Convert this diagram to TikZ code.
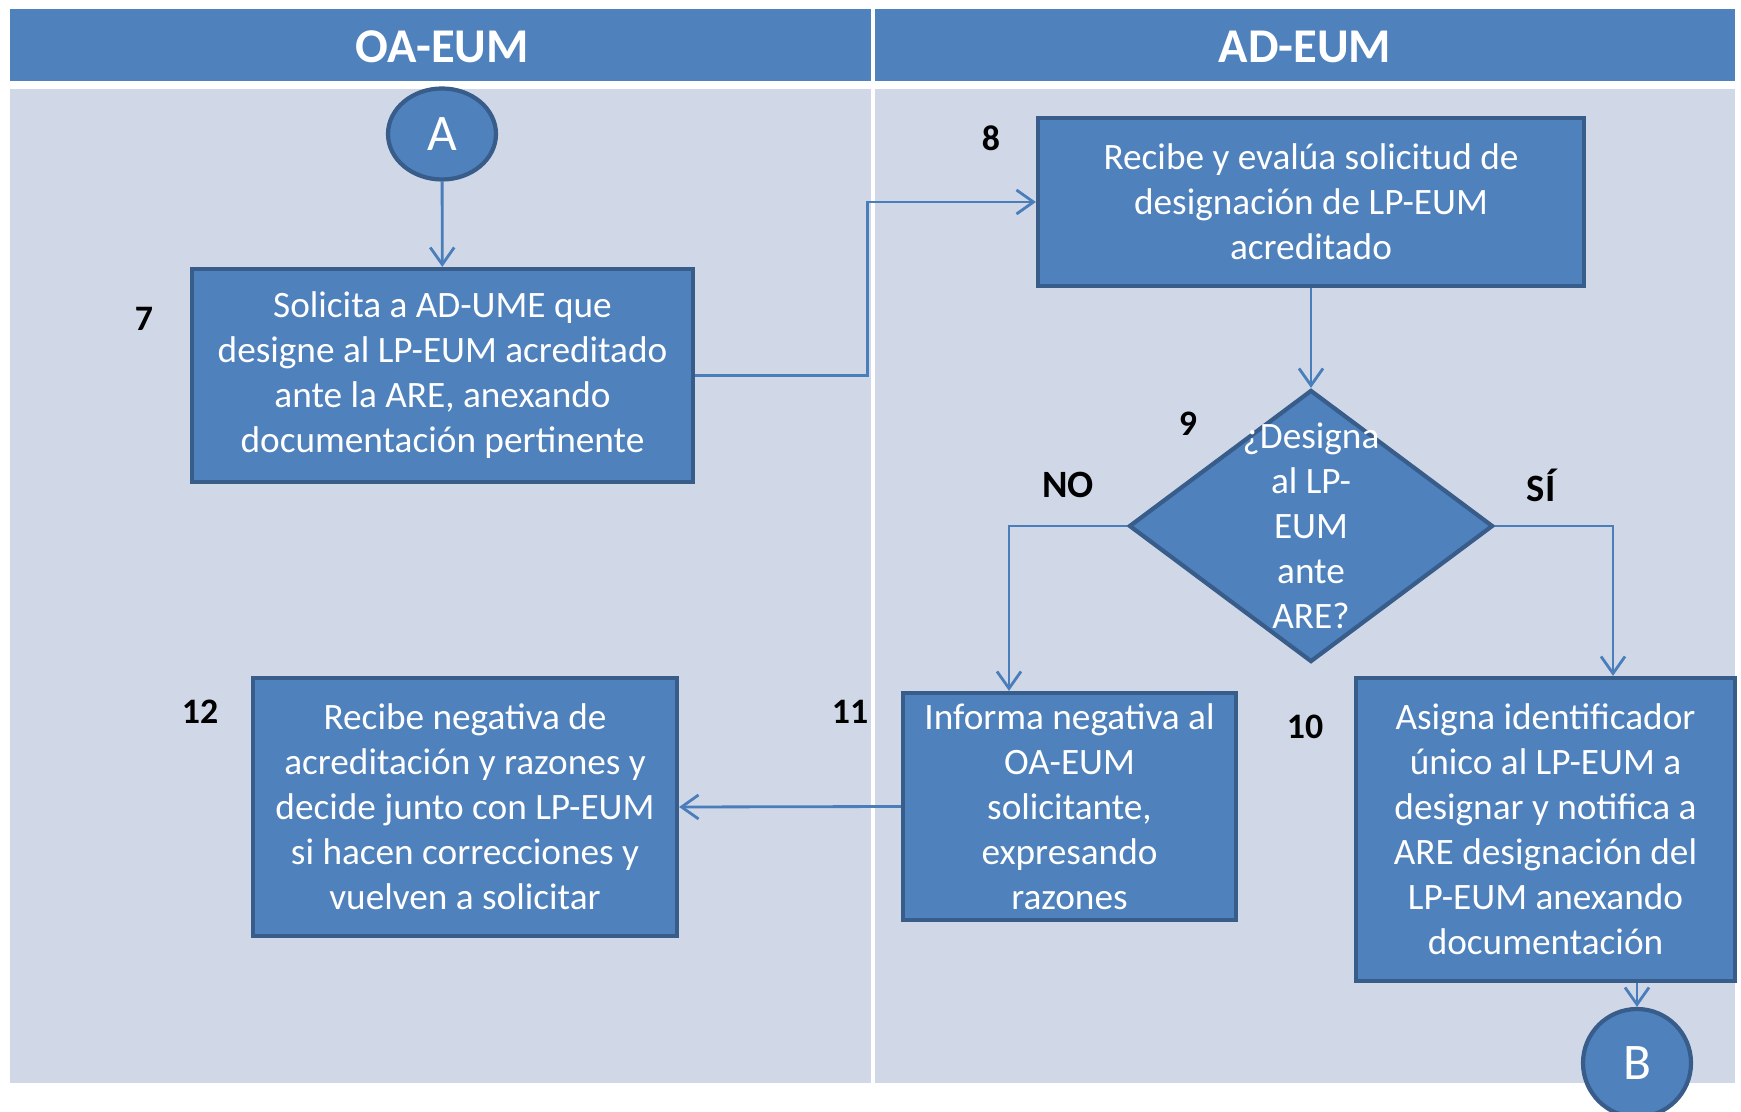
\documentclass[tikz,border=0pt]{standalone}
\usepackage{fontspec}
\setmainfont{Carlito}
\usetikzlibrary{shapes.geometric,arrows.meta}
\definecolor{hdrblue}{HTML}{4F81BD}
\definecolor{lanebg}{HTML}{D0D8E8}
\definecolor{boxedge}{HTML}{385D8A}
\definecolor{linkblue}{HTML}{4A7EBB}

\begin{document}
\begin{tikzpicture}[
    box/.style={draw=boxedge, line width=1.2pt, fill=hdrblue, text=white, align=center,
      inner sep=0pt, font=\fontsize{10.6}{12.8}\selectfont},
    decision/.style={diamond, draw=boxedge, line width=1.2pt, fill=hdrblue, inner sep=0pt,
      minimum width=3.64cm, minimum height=2.72cm},
    connector/.style={ellipse, draw=boxedge, line width=1.2pt, fill=hdrblue, text=white,
      inner sep=0pt, font=\fontsize{14.6}{16}\selectfont},
    lanehead/.style={text=white, font=\bfseries\fontsize{13.8}{16}\selectfont},
    stepno/.style={font=\bfseries\fontsize{10.2}{12}\selectfont},
    flow/.style={draw=linkblue, line width=0.8pt, -{Straight Barb[length=1.7mm,width=2.4mm]}}
  ]
  \useasboundingbox (0,0) rectangle (17.41,11.11);

  % swimlanes
  \fill[hdrblue] (0.10,10.30) rectangle (17.35,11.02);
  \fill[lanebg] (0.10,0.28) rectangle (17.35,10.22);
  \draw[white, line width=1.2pt] (8.73,0.28) -- (8.73,11.02);
  \node[lanehead] (hOA) at (4.42,10.64) {OA-EUM};
  \node[lanehead] (hAD) at (13.05,10.64) {AD-EUM};

  % steps
  \node[connector, minimum width=1.08cm, minimum height=0.91cm] (cA) at (4.42,9.77) {A};
  \node[box, minimum width=5.01cm, minimum height=2.13cm] (b7) at (4.425,7.355)
    {Solicita a AD-UME que\\designe al LP-EUM acreditado\\ante la ARE, anexando\\documentación pertinente};
  \node[box, minimum width=5.46cm, minimum height=1.68cm] (b8) at (13.11,9.09)
    {Recibe y evalúa solicitud de\\designación de LP-EUM\\acreditado};
  \node[decision] (d9) at (13.11,5.85) {};
  \node[text=white, align=center, font=\fontsize{10.6}{12.8}\selectfont] (t9) at (d9)
    {¿Designa\\al LP-\\EUM\\ante\\ARE?};
  \node[box, minimum width=3.79cm, minimum height=3.03cm] (b10) at (15.455,2.815)
    {Asigna identificador\\único al LP-EUM a\\designar y notifica a\\ARE designación del\\LP-EUM anexando\\documentación};
  \node[box, minimum width=3.33cm, minimum height=2.27cm] (b11) at (10.695,3.045)
    {Informa negativa al\\OA-EUM\\solicitante,\\expresando\\razones};
  \node[box, minimum width=4.24cm, minimum height=2.58cm] (b12) at (4.65,3.04)
    {Recibe negativa de\\acreditación y razones y\\decide junto con LP-EUM\\si hacen correcciones y\\vuelven a solicitar};
  \node[connector, minimum width=1.08cm, minimum height=1.08cm] (cB) at (16.37,0.48) {B};

  % step numbers
  \node[stepno] (n7) at (1.44,7.92) {7};
  \node[stepno] (n8) at (9.91,9.73) {8};
  \node[stepno] (n9) at (11.88,6.87) {9};
  \node[stepno] (n10) at (13.05,3.84) {10};
  \node[stepno] (n11) at (8.50,3.99) {11};
  \node[stepno] (n12) at (2.00,3.99) {12};
  \node[stepno, font=\bfseries\fontsize{11}{13}\selectfont] (no) at (10.68,6.26) {NO};
  \node[stepno, font=\bfseries\fontsize{11}{13}\selectfont] (si) at (15.41,6.26) {SÍ};

  % flow
  \draw[flow] (cA) -- (b7);
  \draw[flow] (b7.east) -- ++(1.72,0) |- (b8.west);
  \draw[flow] (b8) -- (d9);
  \draw[flow] (d9.west) -| ([xshift=-0.605cm]b11.north);
  \draw[flow] (d9.east) -| ([xshift=0.675cm]b10.north);
  \draw[flow] (b11.west) -- (b12.east);
  \draw[flow] (b10.south -| cB.north) -- (cB.north);
\end{tikzpicture}
\end{document}
